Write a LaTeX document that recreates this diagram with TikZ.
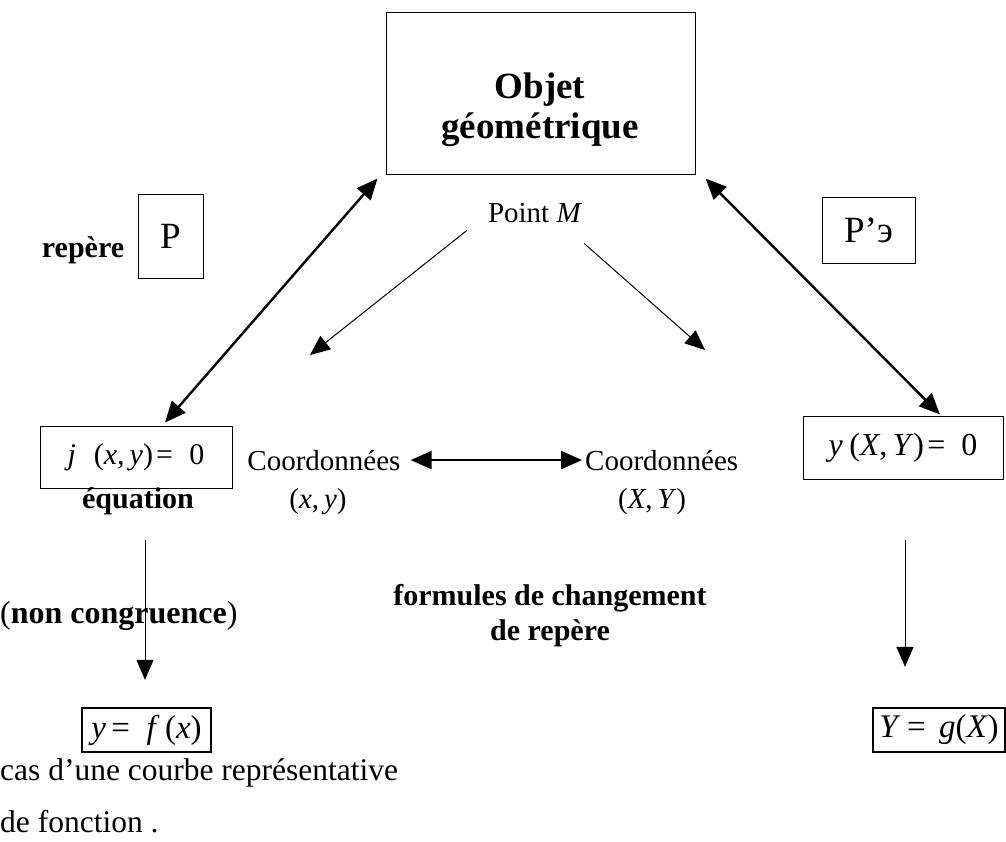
\documentclass[tikz,border=0pt]{standalone}
\usepackage{fontspec}
\setmainfont{Liberation Serif}
\usetikzlibrary{arrows.meta}

\begin{document}
\begin{tikzpicture}[x=1pt, y=-1pt,
	txt/.style={inner sep=0pt, font=\fontsize{29}{35}\selectfont},
	gtxt/.style={inner sep=0pt, font=\fontsize{30}{35}\selectfont\bfseries},
	cadre/.style={draw, line width=1pt, inner sep=0pt, font=\fontsize{32}{35}\selectfont},
	cadregras/.style={draw, line width=2.2pt, inner sep=0pt, font=\fontsize{33}{35}\selectfont},
	fleche/.style={line width=1pt, -{Triangle[length=20pt,width=17pt]}},
	dfleche/.style={line width=2.4pt, {Triangle[length=21pt,width=18pt]}-{Triangle[length=21pt,width=18pt]}}]
	\useasboundingbox (0,0) rectangle (1006,841);

	\node[cadre, minimum width=309pt, minimum height=162pt] (objet) at (540.5,93) {};
	\node[gtxt, font=\fontsize{37}{40}\selectfont\bfseries, align=center] (objtxt) at (540,110) {Objet\\géométrique};
	\node[txt, anchor=base] (point) at (535,222) {Point \textit{M}};

	\node[gtxt, anchor=base] (repere) at (83,257) {repère};
	\node[cadre, minimum width=65pt, minimum height=84pt, font=\fontsize{37}{40}\selectfont] (P) at (170.5,236) {P};
	\node[cadre, minimum width=93pt, minimum height=66pt, font=\fontsize{37}{40}\selectfont] (Pp) at (868.5,230) {P’э};

	\node[cadre, minimum width=192pt, minimum height=62pt, font=\fontsize{30}{35}\selectfont] (phi) at (136,457) {\textit{j}\hspace{0.6em}(\textit{x},\,\textit{y})\hspace{0.1em}=\hspace{0.55em}0};
	\node[gtxt, anchor=base] (equation) at (138,508) {équation};
	\node[txt, anchor=base] (coordA) at (324,470) {Coordonnées};
	\node[txt, anchor=base] (xy) at (318,508) {(\textit{x},\,\textit{y})};
	\node[txt, anchor=base west] (coordB) at (585,470) {Coordonnées};
	\node[txt, anchor=base] (XY) at (652,508) {(\textit{X},\,\textit{Y})};
	\node[cadre, minimum width=200pt, minimum height=63pt] (psi) at (903,447.5) {\textit{y}\hspace{0.2em}(\textit{X},\,\textit{Y})\hspace{0.1em}=\hspace{0.5em}0};

	\node[txt, anchor=base west, font=\fontsize{32}{35}\selectfont] (congru) at (0,623) {(\textbf{non congruence})};
	\node[gtxt, anchor=base] (formA) at (550,605) {formules de changement};
	\node[gtxt, anchor=base] (formB) at (550,640) {de repère};

	\node[cadregras, minimum width=129pt, minimum height=44pt] (fx) at (146.5,730) {\textit{y}\,=\hspace{0.5em}\textit{f}\,(\textit{x})};
	\node[cadregras, minimum width=132pt, minimum height=44pt] (gx) at (939,730) {\textit{Y}\hspace{0.2em}=\hspace{0.4em}\textit{g}(\textit{X})};
	\node[txt, anchor=base west, font=\fontsize{31.5}{35}\selectfont] (cas) at (0,780) {cas d’une courbe représentative};
	\node[txt, anchor=base west, font=\fontsize{31.5}{35}\selectfont] (fonction) at (0,832) {de fonction .};

	\coordinate (pmA) at (310,355);
	\coordinate (pmB) at (705,350);
	\coordinate (hautA) at (145,540);
	\coordinate (hautB) at (905,540);

	\draw[dfleche] ([xshift=29pt, yshift=3pt]phi.north) -- ([xshift=-8pt, yshift=-4pt]objet.south west);
	\draw[dfleche] ([xshift=10pt, yshift=-4pt]objet.south east) -- ([xshift=37pt, yshift=1pt]psi.north);
	\draw[fleche] ([xshift=-21pt, yshift=-8pt]point.south west) -- (pmA);
	\draw[fleche] ([xshift=2pt, yshift=-21pt]point.south east) -- (pmB);
	\draw[dfleche] ([xshift=10pt]coordA.east) -- ([xshift=-3pt]coordB.west);
	\draw[fleche] (hautA) -- ([xshift=-1.5pt, yshift=27pt]fx.north);
	\draw[fleche] (hautB) -- ([xshift=-34pt, yshift=40pt]gx.north);
\end{tikzpicture}
\end{document}
